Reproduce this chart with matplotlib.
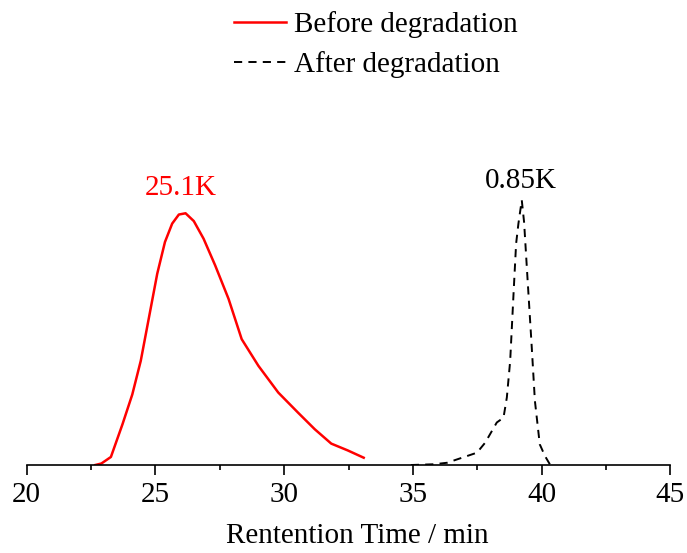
import matplotlib.pyplot as plt
from matplotlib.ticker import MultipleLocator

# Values (intensity normalised to the red peak)
before_t = [22.66, 22.9, 23.27, 23.72, 24.10, 24.43, 24.75, 25.07, 25.37, 25.65, 25.91,
            26.17, 26.49, 26.87, 27.32, 27.84, 28.35, 29.0, 29.77, 30.54, 31.19,
            31.83, 32.47, 33.09]
before_i = [0.0, 0.006, 0.032, 0.162, 0.28, 0.414, 0.587, 0.76, 0.886, 0.959, 0.995,
            1.0, 0.969, 0.899, 0.793, 0.66, 0.50, 0.394, 0.288, 0.208, 0.142,
            0.085, 0.058, 0.029]

after_t = [34.92, 35.82, 36.33, 37.49, 37.81, 38.26, 38.52, 38.65, 38.78, 38.91, 39.01,
           39.10, 39.23, 39.32, 39.45, 39.61, 39.74, 39.93, 40.13, 40.32]
after_i = [0.0, 0.003, 0.009, 0.049, 0.089, 0.169, 0.188, 0.268, 0.414, 0.68, 0.879,
           0.959, 1.052, 0.965, 0.746, 0.481, 0.255, 0.082, 0.036, 0.003]

plt.rcParams['font.family'] = ['Liberation Serif', 'DejaVu Serif']

fig = plt.figure(figsize=(6.87, 5.53), dpi=100)
ax = fig.add_axes([0.0389, 0.1591, 0.9368, 0.5695])

ax.plot(before_t, before_i, color='red', lw=1.8, label='Before degradation')
ax.plot(after_t, after_i, color='black', lw=1.4, dashes=(4.2, 3.2), label='After degradation')

ax.text(26.0, 1.05, '25.1K', color='red', fontsize=21, ha='center', va='bottom')
ax.text(39.2, 1.078, '0.85K', color='black', fontsize=21, ha='center', va='bottom')

ax.set_xlim(20, 45)
ax.set_ylim(0, 1.251)
for s in ['left', 'top', 'right']:
    ax.spines[s].set_visible(False)
ax.spines['bottom'].set_linewidth(1.2)
ax.set_yticks([])
ax.xaxis.set_major_locator(MultipleLocator(5))
ax.xaxis.set_minor_locator(MultipleLocator(2.5))
ax.tick_params(axis='x', which='major', direction='out', length=7, width=1.2, labelsize=21, pad=5)
ax.tick_params(axis='x', which='minor', direction='out', length=3.6, width=1.2)
ax.set_xlabel('Rentention Time / min', fontsize=21)
ax.xaxis.set_label_coords(0.514, -0.183)

fig.legend(loc='upper left', bbox_to_anchor=(0.302, 1.027), frameon=False, fontsize=21,
           handlelength=1.8, handletextpad=0.28, labelspacing=0.45)

fig.savefig('out.png', dpi=100)
